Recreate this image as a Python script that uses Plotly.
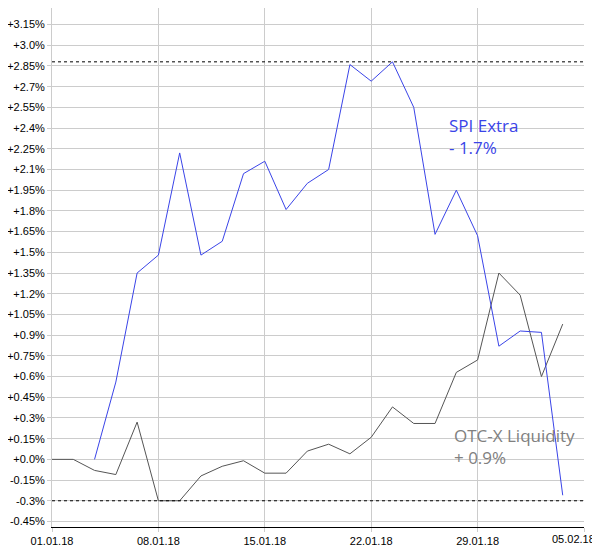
import plotly.graph_objects as go

tick_labels = ["01.01.18", "08.01.18", "15.01.18", "22.01.18", "29.01.18", "05.02.18"]
tick_pos = [0, 5, 10, 15, 20, 25]

spi_x = list(range(2, 25))
spi = [0.0, 0.56, 1.35, 1.48, 2.22, 1.48, 1.58, 2.07, 2.16, 1.81, 2.0, 2.1, 2.86, 2.74,
       2.88, 2.55, 1.63, 1.95, 1.62, 0.82, 0.93, 0.92, -0.26]
otc_x = list(range(0, 25))
otc = [0.0, 0.0, -0.08, -0.11, 0.27, -0.3, -0.3, -0.12, -0.05, -0.01, -0.1, -0.1, 0.06,
       0.11, 0.04, 0.16, 0.38, 0.26, 0.26, 0.63, 0.72, 1.35, 1.19, 0.6, 0.98]

y_ticks = [round(-0.45 + 0.15 * i, 2) for i in range(25)]


def fmt(v):
    s = f"{abs(v):.2f}"
    if s.endswith("0"):
        s = s[:-1]
    sign = "-" if v < 0 else "+"
    return sign + s + "%"


y_text = [fmt(v) for v in y_ticks]

blue = "#3a44e8"
gray = "#555555"

fig = go.Figure()
fig.add_trace(go.Scatter(x=otc_x, y=otc, mode="lines", line=dict(color=gray, width=1)))
fig.add_trace(go.Scatter(x=spi_x, y=spi, mode="lines", line=dict(color=blue, width=1)))
fig.add_hline(y=max(spi), line=dict(color="black", width=1, dash="dot"))
fig.add_hline(y=min(otc), line=dict(color="black", width=1, dash="dot"))

fig.add_annotation(x=18.55, y=2.52, xref="x", yref="y", text="SPI Extra<br>- 1.7%", showarrow=False,
                   xanchor="left", yanchor="top", align="left", font=dict(color=blue, size=17, family="Open Sans"))
fig.add_annotation(x=18.8, y=0.27, xref="x", yref="y", text="OTC-X Liquidity<br>+ 0.9%", showarrow=False,
                   xanchor="left", yanchor="top", align="left", font=dict(color="#808080", size=17, family="Open Sans"))
fig.add_annotation(x=1, y=0, xref="paper", yref="paper", text=tick_labels[-1], showarrow=False,
                   xanchor="right", yanchor="top", xshift=13, yshift=-4,
                   font=dict(family="Liberation Sans", size=11, color="black"))

fig.update_layout(
    width=592, height=542, showlegend=False,
    margin=dict(l=44, r=16, t=0, b=23),
    plot_bgcolor="white", paper_bgcolor="white",
    font=dict(family="Liberation Sans", size=11, color="black"),
    xaxis=dict(range=[0, 25], tickvals=tick_pos, ticktext=tick_labels[:-1] + [""], showgrid=True,
               gridcolor="#cccccc", showline=True, linecolor="black", ticks="outside",
               ticklen=4, tickcolor="#cccccc", automargin=False),
    yaxis=dict(range=[-0.49, 3.27], tickvals=y_ticks, ticktext=y_text, showgrid=True,
               gridcolor="#cccccc", zeroline=False, showline=True, linecolor="#cccccc",
               ticks="outside", ticklen=4, tickcolor="#cccccc", automargin=False),
)
fig.write_html("out.html")
